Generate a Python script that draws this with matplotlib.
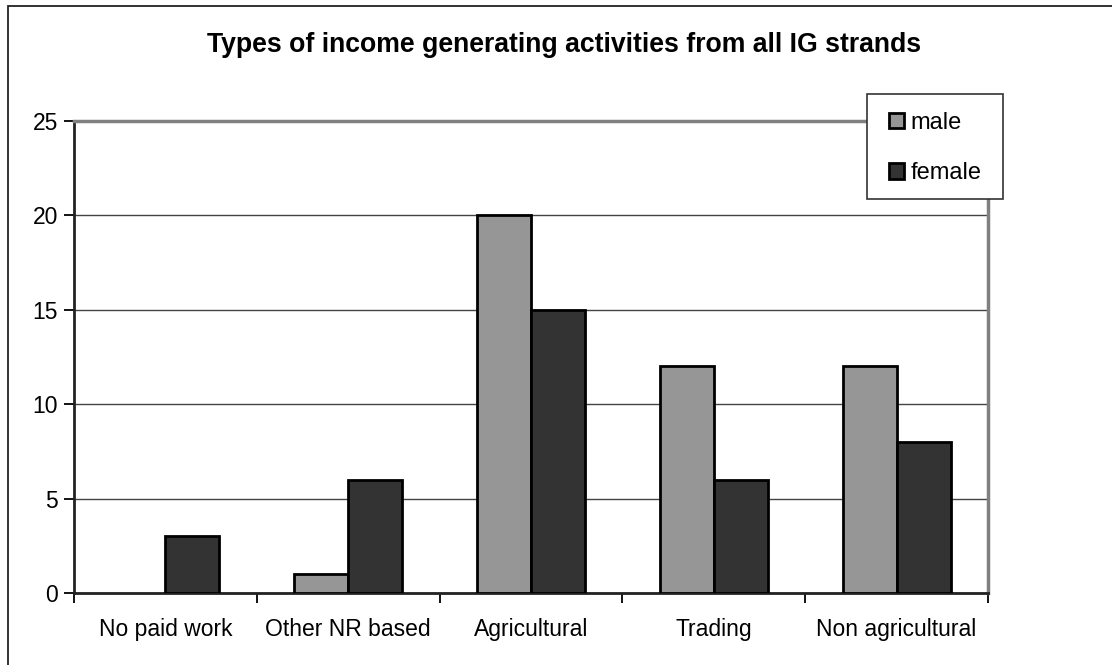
import matplotlib
matplotlib.use("Agg")
import matplotlib.pyplot as plt
from matplotlib.patches import Rectangle, Patch
import numpy as np

categories = ["No paid work", "Other NR based", "Agricultural", "Trading", "Non agricultural"]
male = [0, 1, 20, 12, 12]
female = [3, 6, 15, 6, 8]
series_names = ["male", "female"]
title = "Types of income generating activities from all IG strands"

plt.rcParams["font.family"] = ["Liberation Sans", "DejaVu Sans"]

W, H = 1112, 665
fig = plt.figure(figsize=(W / 100, H / 100), dpi=100)

# outer chart frame (left and top edges visible, right/bottom run off the canvas)
fig.patches.append(Rectangle((8 / W, -0.05), 1.2, (H - 6) / H + 0.05,
                             transform=fig.transFigure, fill=False,
                             edgecolor="#222222", linewidth=1.3, zorder=0))

ax = fig.add_axes([74 / W, 72 / H, 914 / W, 472 / H])

x = np.arange(len(categories))
bw = 0.295
# zero-height bars get no outline
male_lw = [2.0 if v > 0 else 0 for v in male]
female_lw = [2.0 if v > 0 else 0 for v in female]
ax.bar(x - bw / 2, male, width=bw, color="#969696", edgecolor="black",
       linewidth=male_lw, zorder=3)
ax.bar(x + bw / 2, female, width=bw, color="#333333", edgecolor="black",
       linewidth=female_lw, zorder=3)

ax.set_xlim(-0.5, len(categories) - 0.5)
ax.set_ylim(0, 25)
ax.set_yticks([0, 5, 10, 15, 20, 25])
ax.set_xticks(x)
ax.set_xticklabels(categories)
ax.set_xticks(np.arange(-0.5, len(categories)), minor=True)
ax.tick_params(axis="x", which="major", length=0, pad=18, labelsize=16.5)
ax.tick_params(axis="x", which="minor", length=7, width=1.3, color="black")
ax.tick_params(axis="y", length=7, width=1.3, pad=4.5, labelsize=16.5)

ax.yaxis.grid(True, color="#444444", linewidth=1.0, zorder=0)
ax.set_axisbelow(True)

for side in ("left", "bottom"):
    ax.spines[side].set_color("#222222")
    ax.spines[side].set_linewidth(2.0)
for side in ("top", "right"):
    ax.spines[side].set_color("#808080")
    ax.spines[side].set_linewidth(2.5)

fig.text(564 / W, 1 - 45 / H, title, ha="center", va="center",
         fontsize=19.2, fontweight="bold")

# legend box, drawn over the plot area
fig.patches.append(Rectangle((867 / W, 1 - 199 / H), 136 / W, 105 / H,
                             transform=fig.transFigure, facecolor="white",
                             edgecolor="#333333", linewidth=1.2, zorder=5))

handles = [Patch(facecolor="#969696", edgecolor="black", linewidth=2.0),
           Patch(facecolor="#333333", edgecolor="black", linewidth=2.0)]
leg = fig.legend(handles, series_names, loc="upper left",
                 bbox_to_anchor=(889 / W, 1 - 112 / H), fontsize=17,
                 frameon=False, handlelength=0.62, handleheight=0.62,
                 handletextpad=0.3, labelspacing=1.2, borderpad=0,
                 borderaxespad=0)
leg.set_zorder(10)

fig.savefig("out.png", dpi=100)
